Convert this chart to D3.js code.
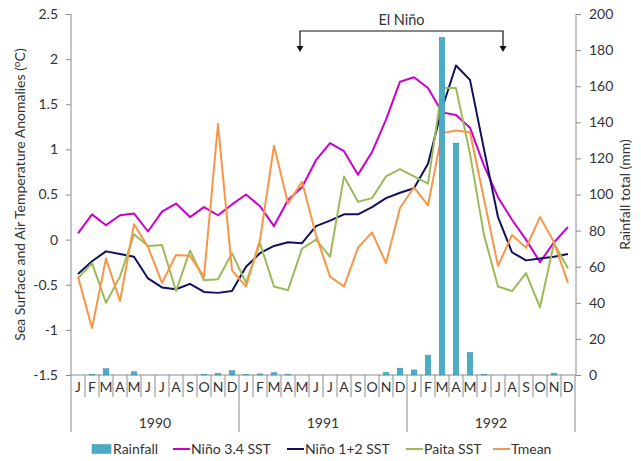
<!DOCTYPE html>
<html lang="en">
<head>
<meta charset="UTF-8">
<title>El Niño 1990-1992</title>
<script src="https://d3js.org/d3.v7.min.js"></script>
<style>
  body { margin: 0; background: #fff; }
  svg text { font-family: Lato, "Open Sans", sans-serif; fill: #333; }
</style>
</head>
<body>
<div id="chart"></div>
<script>
// monthly data, Jan 1990 - Dec 1992
const years = ['1990', '1991', '1992'];
const monthLabels = ['J', 'F', 'M', 'A', 'M', 'J', 'J', 'A', 'S', 'O', 'N', 'D'];

const rainfall = [0, 0.3, 3.5, 0, 1.8, 0, 0, 0, 0, 0.4, 0.9, 2.4,
                  0.2, 0.6, 1.3, 0.4, 0, 0, 0, 0, 0, 0, 1.4, 3.8,
                  2.8, 11, 187, 128.5, 12.5, 0.3, 0, 0, 0, 0, 1.0, 0];
const nino34 = [0.07, 0.28, 0.16, 0.27, 0.29, 0.09, 0.31, 0.40, 0.25, 0.36, 0.27, 0.39,
                0.50, 0.37, 0.15, 0.44, 0.58, 0.88, 1.07, 0.98, 0.72, 0.97, 1.33, 1.75,
                1.80, 1.68, 1.41, 1.38, 1.24, 0.82, 0.47, 0.22, 0.0, -0.25, -0.03, 0.14];
const nino12 = [-0.38, -0.24, -0.13, -0.16, -0.19, -0.43, -0.53, -0.55, -0.49, -0.58, -0.59, -0.57,
                -0.30, -0.15, -0.07, -0.03, -0.04, 0.15, 0.21, 0.28, 0.28, 0.36, 0.46, 0.52,
                0.57, 0.84, 1.45, 1.93, 1.77, 1.0, 0.25, -0.14, -0.23, -0.21, -0.19, -0.16];
const paita = [-0.43, -0.26, -0.70, -0.41, 0.06, -0.07, -0.06, -0.57, -0.12, -0.45, -0.44, -0.15,
               -0.48, -0.04, -0.52, -0.56, -0.10, 0.0, -0.19, 0.70, 0.42, 0.46, 0.70, 0.78,
               0.70, 0.62, 1.68, 1.68, 0.95, 0.05, -0.52, -0.57, -0.37, -0.75, -0.04, -0.32];
const tmean = [-0.41, -0.98, -0.21, -0.68, 0.17, -0.08, -0.48, -0.17, -0.18, -0.41, 1.28, -0.34,
               -0.52, 0.0, 1.04, 0.40, 0.64, 0.05, -0.41, -0.52, -0.09, 0.08, -0.26, 0.35,
               0.58, 0.38, 1.18, 1.21, 1.19, 0.45, -0.29, 0.05, -0.09, 0.25, -0.03, -0.48];

const leftTicks = [-1.5, -1, -0.5, 0, 0.5, 1, 1.5, 2, 2.5];
const rightTicks = [0, 20, 40, 60, 80, 100, 120, 140, 160, 180, 200];

const lineSeries = [
  { name: 'Niño 3.4 SST', values: nino34, color: '#cc00cc' },
  { name: 'Niño 1+2 SST', values: nino12, color: '#10105e' },
  { name: 'Paita SST', values: paita, color: '#9bbb59' },
  { name: 'Tmean', values: tmean, color: '#f79646' }
];
const barColor = '#4bacc6';
const axisColor = '#8c8c8c';
const fs = '14px';

const width = 641, height = 461;
const plot = { left: 71, right: 575, top: 14, bottom: 375 };

const svg = d3.select('#chart').append('svg')
  .attr('width', width)
  .attr('height', height);

const months = d3.range(36);
const x = d3.scaleBand().domain(months).range([plot.left, plot.right]);
const y = d3.scaleLinear().domain([-1.5, 2.5]).range([plot.bottom, plot.top]);
const y2 = d3.scaleLinear().domain([0, 200]).range([plot.bottom, plot.top]);
const cx = i => x(i) + x.bandwidth() / 2;

// left axis
const gLeft = svg.append('g')
  .attr('transform', `translate(${plot.left},0)`)
  .call(d3.axisLeft(y).tickValues(leftTicks).tickSize(5).tickPadding(8).tickFormat(d => String(d)));
// right axis
const gRight = svg.append('g')
  .attr('transform', `translate(${plot.right + 1},0)`)
  .call(d3.axisRight(y2).tickValues(rightTicks).tickSize(5).tickPadding(8).tickFormat(d => String(d)));

[gLeft, gRight].forEach(g => {
  g.select('.domain').attr('stroke', axisColor).attr('d', null);
  g.selectAll('.tick line').attr('stroke', axisColor);
  g.selectAll('.tick text').style('font-size', fs).attr('fill', '#333');
});
gLeft.append('line').attr('y1', plot.top).attr('y2', plot.bottom).attr('stroke', axisColor);
gRight.append('line').attr('y1', plot.top).attr('y2', plot.bottom).attr('stroke', axisColor);

// bottom axis: category line, month separators and labels
const gx = svg.append('g');
gx.append('line')
  .attr('x1', plot.left).attr('x2', plot.right + 1)
  .attr('y1', plot.bottom).attr('y2', plot.bottom)
  .attr('stroke', axisColor);
gx.selectAll('.sep')
  .data(d3.range(37))
  .enter().append('line')
  .attr('x1', i => i < 36 ? x(i) : plot.right)
  .attr('x2', i => i < 36 ? x(i) : plot.right)
  .attr('y1', plot.bottom)
  .attr('y2', i => i % 12 === 0 ? 432 : 397)
  .attr('stroke', axisColor);
gx.selectAll('.mlabel')
  .data(months)
  .enter().append('text')
  .attr('x', cx)
  .attr('y', 392)
  .attr('text-anchor', 'middle')
  .style('font-size', fs)
  .text(i => monthLabels[i % 12]);
gx.selectAll('.ylabel')
  .data(years)
  .enter().append('text')
  .attr('x', (d, k) => x(k * 12) + x.bandwidth() * 6)
  .attr('y', 428)
  .attr('text-anchor', 'middle')
  .style('font-size', fs)
  .text(d => d);

// lines (primary axis)
const line = d3.line().x((d, i) => cx(i)).y(d => y(d));
svg.selectAll('.series')
  .data(lineSeries)
  .enter().append('path')
  .attr('fill', 'none')
  .attr('stroke', d => d.color)
  .attr('stroke-width', 2)
  .attr('stroke-linejoin', 'round')
  .attr('d', d => line(d.values));

// rainfall bars (secondary axis, drawn on top)
const barW = x.bandwidth() * 0.4;
svg.selectAll('.bar')
  .data(rainfall)
  .enter().append('rect')
  .attr('x', (d, i) => cx(i) - barW / 2)
  .attr('y', d => y2(d))
  .attr('width', barW)
  .attr('height', d => y2(0) - y2(d))
  .attr('fill', barColor)
  .attr('stroke', d => d > 0 ? '#3a93ad' : 'none')
  .attr('stroke-width', 0.5);

// El Niño bracket
const bx1 = cx(16) - 2, bx2 = cx(30) + 5, by = 31, bTip = 52;
svg.append('path')
  .attr('d', `M${bx1},${bTip - 5}V${by}H${bx2}V${bTip - 5}`)
  .attr('fill', 'none')
  .attr('stroke', '#111')
  .attr('stroke-width', 1.2);
[bx1, bx2].forEach(bx => {
  svg.append('path')
    .attr('d', `M${bx - 3.5},${bTip - 6}L${bx + 3.5},${bTip - 6}L${bx},${bTip}Z`)
    .attr('fill', '#111');
});
svg.append('text')
  .attr('x', (bx1 + bx2) / 2)
  .attr('y', 25)
  .attr('text-anchor', 'middle')
  .style('font-size', '14.5px')
  .text('El Niño');

// axis titles
const tl = svg.append('text')
  .attr('transform', `translate(25,${(plot.top + plot.bottom) / 2}) rotate(-90)`)
  .attr('text-anchor', 'middle')
  .style('font-size', fs);
tl.append('tspan').text('Sea Surface and Air Temperature Anomalies (');
tl.append('tspan').attr('dy', -5).style('font-size', '10px').text('o');
tl.append('tspan').attr('dy', 5).text('C)');

svg.append('text')
  .attr('transform', `translate(630,${(plot.top + plot.bottom) / 2}) rotate(-90)`)
  .attr('text-anchor', 'middle')
  .style('font-size', fs)
  .text('Rainfall total (mm)');

// legend
const legend = [
  { name: 'Rainfall', type: 'bar', color: barColor, x: 92 },
  { name: lineSeries[0].name, type: 'line', color: lineSeries[0].color, x: 173 },
  { name: lineSeries[1].name, type: 'line', color: lineSeries[1].color, x: 287 },
  { name: lineSeries[2].name, type: 'line', color: lineSeries[2].color, x: 406 },
  { name: lineSeries[3].name, type: 'line', color: lineSeries[3].color, x: 493 }
];
const lg = svg.selectAll('.legend')
  .data(legend)
  .enter().append('g')
  .attr('transform', d => `translate(${d.x},449)`);
lg.filter(d => d.type === 'bar').append('rect')
  .attr('x', 0).attr('y', -4.5).attr('width', 19).attr('height', 9)
  .attr('fill', d => d.color).attr('stroke', '#3a93ad').attr('stroke-width', 0.5);
lg.filter(d => d.type === 'line').append('line')
  .attr('x1', 0).attr('x2', 17).attr('y1', 0).attr('y2', 0)
  .attr('stroke', d => d.color).attr('stroke-width', 2);
lg.append('text')
  .attr('x', d => d.type === 'bar' ? 21 : 18)
  .attr('y', 5)
  .style('font-size', fs)
  .text(d => d.name);
</script>
</body>
</html>
